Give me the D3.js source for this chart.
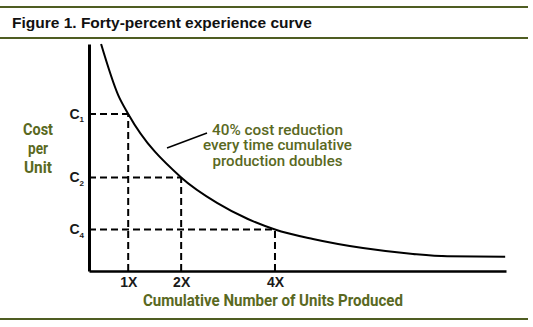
<!DOCTYPE html>
<html>
<head>
<meta charset="utf-8">
<script src="https://cdn.jsdelivr.net/npm/d3@7"></script>
<style>
  body { margin: 0; background: #fff; }
  svg { display: block; }
</style>
</head>
<body>
<svg id="chart" width="533" height="327"></svg>
<script>
// Experience curve on a relative 0–100 scale (output along x, unit cost along y)
const curveUnits = [2.9, 7.0, 9.4, 22.1, 30.7, 38.1, 44.6, 53.7, 65.7, 77.7, 85.9, 99.8];
const curveCost  = [100, 77.5, 69.2, 41.2, 30.0, 22.9, 18.3, 14.1, 10.1, 7.5, 6.5, 6.3];

// Points where cumulative production doubles
const markerUnits = [9.4, 22.1, 44.6];
const markerCost  = [69.2, 41.2, 18.3];
const xTickLabels = ["1X", "2X", "4X"];
const yTickLabels = ["C", "C", "C"];
const yTickSubs   = ["1", "2", "4"];

const titleText = "Figure 1. Forty-percent experience curve";
const noteLines = ["40% cost reduction", "every time cumulative", "production doubles"];
const yTitleLines = ["Cost", "per", "Unit"];
const xTitleText = "Cumulative Number of Units Produced";

const olive = "#5a691f";
const ruleColor = "#4f5d22";
const sans = "'Liberation Sans', Arial, sans-serif";
const narrow = "Roboto, 'Liberation Sans', sans-serif";

const svg = d3.select("#chart");

const x = d3.scaleLinear().domain([0, 100]).range([89, 506]);
const y = d3.scaleLinear().domain([0, 100]).range([271, 44]);

// Header and footer rules
[7, 38, 319].forEach(ry => {
  svg.append("line")
    .attr("x1", 0).attr("x2", 528)
    .attr("y1", ry).attr("y2", ry)
    .attr("stroke", ruleColor).attr("stroke-width", 2);
});

svg.append("text")
  .attr("x", 12).attr("y", 28)
  .attr("font-family", sans).attr("font-weight", "bold")
  .attr("font-size", 15.5).attr("fill", "#111")
  .text(titleText);

// Dashed guides from each doubling point to both axes
const markers = markerUnits.map((u, i) => ({ u, c: markerCost[i] }));
const guides = svg.append("g")
  .attr("stroke", "#000").attr("stroke-width", 2)
  .attr("stroke-dasharray", "7,4").attr("fill", "none");
guides.selectAll("line.h").data(markers).join("line")
  .attr("class", "h")
  .attr("x1", x(0)).attr("x2", d => x(d.u))
  .attr("y1", d => y(d.c)).attr("y2", d => y(d.c));
guides.selectAll("line.v").data(markers).join("line")
  .attr("class", "v")
  .attr("x1", d => x(d.u)).attr("x2", d => x(d.u))
  .attr("y1", y(0)).attr("y2", d => y(d.c));

// The curve itself
const curvePts = curveUnits.map((u, i) => [u, curveCost[i]]);
svg.append("path")
  .datum(curvePts)
  .attr("fill", "none").attr("stroke", "#000").attr("stroke-width", 2)
  .attr("d", d3.line().x(d => x(d[0])).y(d => y(d[1])).curve(d3.curveMonotoneX));

// Axes
const xAxis = svg.append("g")
  .attr("transform", `translate(0,${y(0)})`)
  .call(d3.axisBottom(x)
    .tickValues(markerUnits)
    .tickFormat((d, i) => xTickLabels[i])
    .tickSize(0).tickSizeOuter(0).tickPadding(6));
xAxis.select(".domain").attr("stroke", "#000").attr("stroke-width", 2.5);
xAxis.selectAll("text")
  .attr("font-family", sans).attr("font-weight", "bold")
  .attr("font-size", 14).attr("fill", "#1a1a1a");

const yAxis = svg.append("g")
  .attr("transform", `translate(${x(0)},0)`)
  .call(d3.axisLeft(y)
    .tickValues(markerCost)
    .tickFormat((d, i) => yTickLabels[i])
    .tickSize(0).tickSizeOuter(0).tickPadding(5));
yAxis.select(".domain").attr("stroke", "#000").attr("stroke-width", 3);
yAxis.selectAll(".tick text")
  .attr("font-family", sans).attr("font-weight", "bold")
  .attr("font-size", 14).attr("fill", "#1a1a1a")
  .each(function(d, i) {
    d3.select(this).append("tspan")
      .attr("font-size", 8).attr("dy", "0.4em")
      .text(yTickSubs[i]);
  });

// Axis titles
const yTitleBase = [135, 154, 173];
const yTitleWidth = [30, 20, 28];
yTitleLines.forEach((t, i) => {
  svg.append("text")
    .attr("x", 38).attr("y", yTitleBase[i])
    .attr("font-family", narrow).attr("font-weight", "bold")
    .attr("font-size", 16).attr("fill", olive)
    .attr("text-anchor", "middle")
    .attr("textLength", yTitleWidth[i]).attr("lengthAdjust", "spacingAndGlyphs")
    .text(t);
});

svg.append("text")
  .attr("x", 273).attr("y", 306)
  .attr("font-family", narrow).attr("font-weight", "bold")
  .attr("font-size", 16).attr("fill", olive)
  .attr("text-anchor", "middle")
  .attr("textLength", 260).attr("lengthAdjust", "spacingAndGlyphs")
  .text(xTitleText);

// Annotation with leader line
svg.append("line")
  .attr("x1", 167).attr("y1", 148).attr("x2", 207).attr("y2", 133)
  .attr("stroke", "#000").attr("stroke-width", 1.5);
const noteBase = [135, 150, 166];
const noteWidth = [131, 149, 130];
noteLines.forEach((t, i) => {
  svg.append("text")
    .attr("x", 277.5).attr("y", noteBase[i])
    .attr("font-family", narrow).attr("font-weight", 500)
    .attr("font-size", 14).attr("fill", olive)
    .attr("text-anchor", "middle")
    .attr("textLength", noteWidth[i]).attr("lengthAdjust", "spacingAndGlyphs")
    .text(t);
});
</script>
</body>
</html>
